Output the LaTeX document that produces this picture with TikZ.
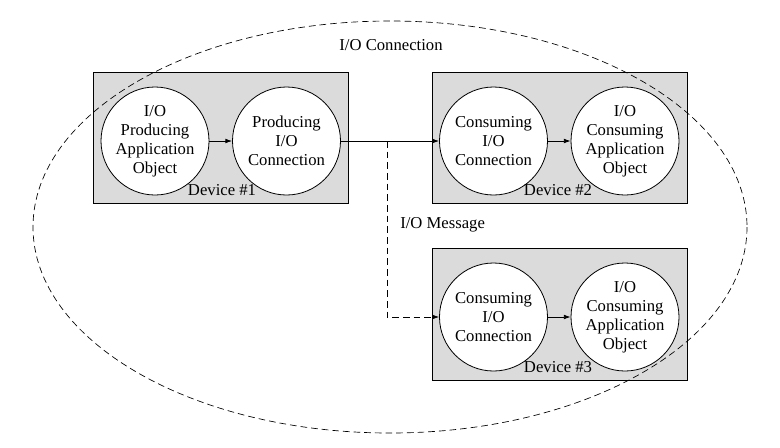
\documentclass[tikz,border=0pt]{standalone}
\usepackage{fontspec}
\setmainfont{Liberation Serif}
\usetikzlibrary{arrows.meta}
\begin{document}
\begin{tikzpicture}[x=0.75pt,y=-0.75pt,
  devbox/.style={draw=black,fill=black!14,line width=0.6pt},
  obj/.style={circle,draw=black,fill=white,line width=0.6pt,minimum size=81pt,inner sep=0pt,align=center,font=\fontsize{12.5}{14.2}\selectfont},
  lbl/.style={font=\fontsize{12.5}{14.2}\selectfont,inner sep=0pt},
  arr/.style={-{Latex[length=5pt,width=3.5pt]},line width=0.6pt},
  dashline/.style={dash pattern=on 5pt off 3pt,line width=0.5pt}]
\useasboundingbox (0,0) rectangle (780,447);
% devices
\draw[devbox] (93,72) rectangle (348,203);
\draw[devbox] (432,72) rectangle (687,203);
\draw[devbox] (432,248) rectangle (687,380);
% ellipse
\draw[dashline] (390,227) ellipse [x radius=357, y radius=206];
\node[lbl] (conn) at (391,45) {I/O Connection};
% objects
\node[obj] (a1) at (155,141) {I/O\\Producing\\Application\\Object};
\node[obj] (a2) at (286.5,141) {Producing\\I/O\\Connection};
\node[obj] (b1) at (493.5,141) {Consuming\\I/O\\Connection};
\node[obj] (b2) at (625,141) {I/O\\Consuming\\Application\\Object};
\node[obj] (c1) at (493.5,317) {Consuming\\I/O\\Connection};
\node[obj] (c2) at (625,317) {I/O\\Consuming\\Application\\Object};
\node[lbl] (d1) at (222,190) {Device \#1};
\node[lbl] (d2) at (558,190) {Device \#2};
\node[lbl] (d3) at (558,367) {Device \#3};
\node[lbl,anchor=west] (msg) at (400,225) {I/O Message};
% arrows
\draw[arr] (a1) -- (a2);
\draw[arr] (b1) -- (b2);
\draw[arr] (c1) -- (c2);
\draw[arr] (a2.east) -- (b1.west);
\coordinate (br) at (387,141);
\draw[arr,dashline] (br) |- (c1.west);
\end{tikzpicture}
\end{document}
